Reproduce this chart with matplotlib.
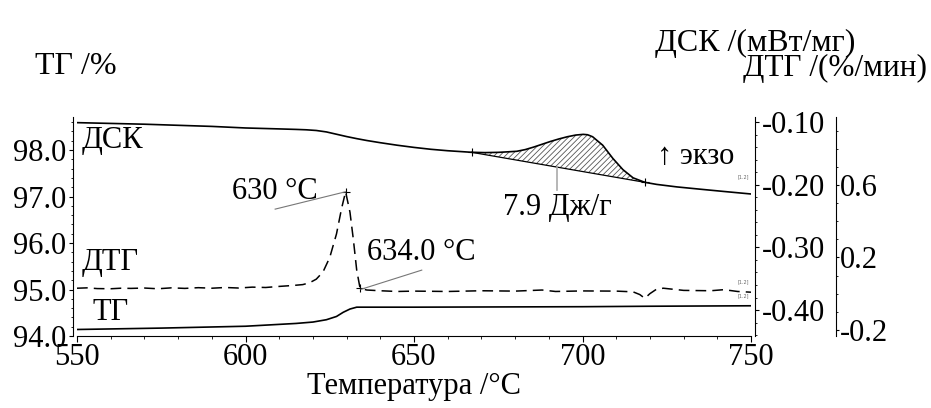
import numpy as np
import matplotlib
matplotlib.use("Agg")
import matplotlib.pyplot as plt
from matplotlib.ticker import MultipleLocator, FixedLocator, FormatStrFormatter

plt.rcParams["font.family"] = ["Liberation Serif", "DejaVu Serif"]
plt.rcParams["font.size"] = 22
plt.rcParams["hatch.linewidth"] = 0.6

# DSC, mW/mg
dsc_t = [550, 570, 590, 600, 610, 615, 618, 621, 624, 627, 630, 633, 636,
         640, 645, 650, 655, 660, 664, 667.1, 671, 675, 678, 680.5, 683,
         685.5, 688, 690.5, 693, 695.5, 698, 700.2, 701.5, 703, 706, 709,
         712, 715, 718.5, 722, 728, 735, 742, 750]
dsc_v = [-0.101, -0.1035, -0.107, -0.1095, -0.1110, -0.1118, -0.1124,
         -0.1135, -0.1158, -0.1195, -0.1232, -0.1265, -0.1295, -0.1330,
         -0.1370, -0.1405, -0.1435, -0.1458, -0.1472, -0.1483, -0.1488,
         -0.1484, -0.1475, -0.1467, -0.1440, -0.1400, -0.1355, -0.1310,
         -0.1270, -0.1235, -0.1208, -0.1197, -0.1203, -0.1235, -0.1370,
         -0.1580, -0.1760, -0.1890, -0.1962, -0.1995, -0.2035, -0.2072,
         -0.2108, -0.2148]

# TG, %
tg_t = [550, 575, 600, 615, 620, 624, 627, 629, 631, 633, 650, 700, 720, 750]
tg_v = [94.14, 94.17, 94.21, 94.27, 94.30, 94.35, 94.42, 94.51, 94.58,
        94.62, 94.62, 94.63, 94.64, 94.65]

# DTG, %/min
dtg_t = [550, 553, 556, 560, 563, 566, 570, 574, 578, 582, 586, 590, 594,
         598, 602, 606, 610, 614, 617, 619, 621, 623, 625, 627, 628.5,
         629.7, 631, 632, 633, 634, 636, 640, 645, 650, 660, 670, 680, 688,
         692, 700, 710, 715, 717, 718.5, 720, 722, 724, 730, 738, 742, 746,
         750]
dtg_v = [0.030, 0.032, 0.028, 0.027, 0.030, 0.029, 0.031, 0.027, 0.032,
         0.029, 0.033, 0.030, 0.034, 0.031, 0.036, 0.034, 0.040, 0.045,
         0.050, 0.060, 0.080, 0.120, 0.200, 0.330, 0.470, 0.563, 0.450,
         0.300, 0.130, 0.029, 0.020, 0.016, 0.012, 0.014, 0.012, 0.016,
         0.014, 0.020, 0.012, 0.015, 0.014, 0.010, -0.005, -0.026, 0.000,
         0.025, 0.030, 0.018, 0.016, 0.022, 0.012, 0.008]

dtg_ticks = [-0.2, 0.2, 0.6]

# exothermic peak integration limits and result
peak_start, peak_end = 667.1, 718.5
peak_area = "7.9 Дж/г"
dtg_peak_t = 629.7
dtg_end_t = 634.0

fig = plt.figure(figsize=(9.31, 4.08), dpi=100)
ax = fig.add_axes([77 / 931, 1 - 336 / 408, 674 / 931, 219 / 408])
ax2 = ax.twinx()
ax3 = ax.twinx()

ax.set_xlim(550, 750)
ax.set_ylim(94.0, 98.71)
ax2.set_ylim(-0.4413, -0.0920)
ax3.set_ylim(-0.234, 0.976)

for a in (ax, ax2, ax3):
    a.spines["top"].set_visible(False)
ax.spines["right"].set_visible(False)
ax.spines["left"].set_position(("outward", 3))
for a in (ax2, ax3):
    a.spines["left"].set_visible(False)
    a.spines["bottom"].set_visible(False)
ax2.spines["right"].set_position(("outward", 3))
ax3.spines["right"].set_position(("axes", 1.126))

ax.xaxis.set_major_locator(MultipleLocator(50))
ax.xaxis.set_minor_locator(MultipleLocator(10))
ax.yaxis.set_major_locator(MultipleLocator(1.0))
ax.yaxis.set_minor_locator(MultipleLocator(0.2))
ax.yaxis.set_major_formatter(FormatStrFormatter("%.1f"))
ax2.yaxis.set_major_locator(MultipleLocator(0.1))
ax2.yaxis.set_minor_locator(MultipleLocator(0.02))
ax2.yaxis.set_major_formatter(FormatStrFormatter("%.2f"))
ax3.yaxis.set_major_locator(FixedLocator(dtg_ticks))
ax3.yaxis.set_minor_locator(MultipleLocator(0.1))
ax3.yaxis.set_major_formatter(FormatStrFormatter("%.1f"))

ax.tick_params(axis="x", which="major", length=4, width=0.8, pad=1)
ax.tick_params(axis="x", which="minor", length=2, width=0.6)
ax.tick_params(axis="y", which="major", length=3, width=0.8, pad=2)
ax.tick_params(axis="y", which="minor", length=1.5, width=0.6)
ax2.tick_params(axis="y", which="major", length=3, width=0.8, pad=2)
ax2.tick_params(axis="y", which="minor", length=1.5, width=0.6)
ax3.tick_params(axis="y", which="major", length=2, width=0.8, pad=1)
ax3.tick_params(axis="y", which="minor", length=1.5, width=0.6)

# curves
ax2.plot(dsc_t, dsc_v, color="black", lw=1.2)
ax.plot(tg_t, tg_v, color="black", lw=1.2)
dtg_line, = ax3.plot(dtg_t, dtg_v, color="black", lw=1.1)
dtg_line.set_dashes((7, 4))

# hatched peak area over a straight baseline
grid = np.linspace(peak_start, peak_end, 200)
upper = np.interp(grid, dsc_t, dsc_v)
b0, b1 = np.interp([peak_start, peak_end], dsc_t, dsc_v)
base = b0 + (grid - peak_start) / (peak_end - peak_start) * (b1 - b0)
ax2.fill_between(grid, base, upper, facecolor="none", edgecolor="#555555",
                 hatch="//////", linewidth=0)
ax2.plot([peak_start, peak_end], [b0, b1], color="black", lw=0.9)
ax2.plot([peak_start, peak_end], [b0, b1], "+", color="black", ms=6, mew=0.8)
mid_t = 692.5
mid_v = b0 + (mid_t - peak_start) / (peak_end - peak_start) * (b1 - b0)
ax2.plot([mid_t, mid_t], [mid_v, -0.2085], color="#aaaaaa", lw=1.2)
ax.text(mid_t, 96.76, peak_area, ha="center", va="center")

# DTG peak markers
pk_v = np.interp(dtg_peak_t, dtg_t, dtg_v)
end_v = np.interp(dtg_end_t, dtg_t, dtg_v)
ax3.plot([dtg_peak_t, dtg_end_t], [pk_v, end_v], "+", color="black", ms=6, mew=0.8)
ax3.plot([608.8, dtg_peak_t], [0.467, pk_v], color="#777777", lw=0.8)
ax3.plot([652.3, dtg_end_t + 0.3], [0.130, end_v - 0.005], color="#777777", lw=0.8)
ax.text(608.8, 97.10, "630 °C", ha="center", va="center")
ax.text(652.2, 95.79, "634.0 °C", ha="center", va="center")

# curve names
ax.text(551.5, 98.21, "ДСК", ha="left", va="center")
ax.text(551.5, 95.58, "ДТГ", ha="left", va="center")
ax.text(554.5, 94.50, "ТГ", ha="left", va="center")
ax.text(722.1, 97.85, "↑ экзо", ha="left", va="center")

for yv in (97.36, 95.12, 94.80):
    ax.text(749.5, yv, "[1.2]", fontsize=3.5, color="#666666",
            ha="right", va="bottom", family="DejaVu Sans")

ax.set_xlabel("Температура /°C", labelpad=0)

fig.text(35 / 931, 1 - 67 / 408, "ТГ /%", ha="left", va="center", fontsize=23)
fig.text(655 / 931, 1 - 43 / 408, "ДСК /(мВт/мг)", ha="left", va="center", fontsize=23)
fig.text(927 / 931, 1 - 68 / 408, "ДТГ /(%/мин)", ha="right", va="center", fontsize=22.5)

fig.savefig("out.png", dpi=100)
